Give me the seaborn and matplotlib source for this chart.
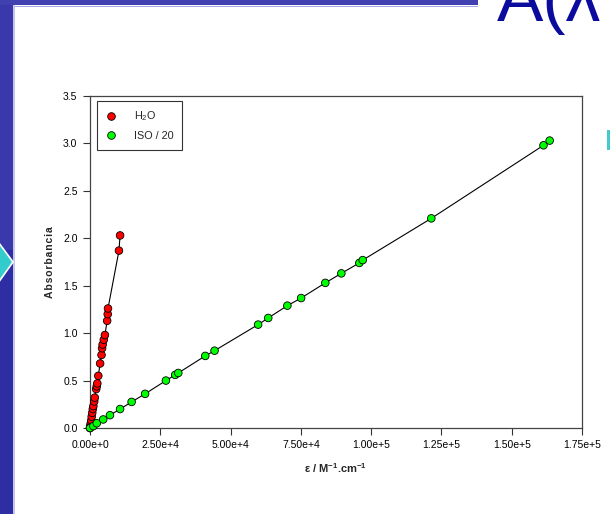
import numpy as np
import pandas as pd
import matplotlib
matplotlib.use("Agg")
import matplotlib.pyplot as plt
from matplotlib.patches import Rectangle, Polygon
from matplotlib.lines import Line2D
from matplotlib.ticker import FixedLocator, FuncFormatter
import seaborn as sns

# Absorbance vs molar absorptivity (epsilon) for two solvents
h2o_eps = [0, 150, 300, 450, 600, 800, 1000, 1200, 1500, 1700, 2200, 2400,
           2600, 2950, 3600, 4100, 4300, 4500, 4900, 5300, 6100, 6300, 6400,
           10300, 10700]
h2o_abs = [0.0, 0.03, 0.05, 0.08, 0.12, 0.16, 0.2, 0.23, 0.28, 0.32, 0.41,
           0.44, 0.47, 0.55, 0.68, 0.77, 0.84, 0.88, 0.93, 0.98, 1.13, 1.2,
           1.26, 1.87, 2.03]

iso_eps = [0, 1200, 2400, 4700, 7100, 10700, 14800, 19600, 27000, 30300,
           31400, 41000, 44300, 59800, 63400, 70200, 75100, 83700, 89400,
           95800, 97000, 121400, 161300, 163500]
iso_abs = [0.0, 0.02, 0.05, 0.09, 0.135, 0.2, 0.275, 0.36, 0.5, 0.56, 0.58,
           0.76, 0.815, 1.09, 1.16, 1.29, 1.37, 1.53, 1.63, 1.74, 1.77, 2.21,
           2.98, 3.03]

series_names = ["H$_2$O", "ISO / 20"]
series_colors = ["#FF0000", "#00FF00"]

x_ticks = [0, 25000, 50000, 75000, 100000, 125000, 150000, 175000]
x_tick_labels = ["0.00e+0", "2.50e+4", "5.00e+4", "7.50e+4", "1.00e+5",
                 "1.25e+5", "1.50e+5", "1.75e+5"]
y_ticks = [0.0, 0.5, 1.0, 1.5, 2.0, 2.5, 3.0, 3.5]

df = pd.concat([
    pd.DataFrame({"eps": h2o_eps, "abs": h2o_abs, "serie": series_names[0]}),
    pd.DataFrame({"eps": iso_eps, "abs": iso_abs, "serie": series_names[1]}),
], ignore_index=True)

sns.set_theme(style="white")
plt.rcParams["font.family"] = ["Liberation Sans", "DejaVu Sans"]
plt.rcParams["mathtext.fontset"] = "custom"
plt.rcParams["mathtext.rm"] = "Liberation Sans"
plt.rcParams["mathtext.bf"] = "Liberation Sans:bold"

W, H = 610, 514
fig = plt.figure(figsize=(W / 100, H / 100), dpi=100, facecolor="white")

# Slide frame decorations (pixel coordinates)
deco = fig.add_axes([0, 0, 1, 1], zorder=-1)
deco.set_xlim(0, W)
deco.set_ylim(H, 0)
deco.axis("off")
deco.add_patch(Rectangle((0, 0), 13, H, color="#2E2EA4", lw=0))
deco.add_patch(Rectangle((0, 0), 13, 250, color="#3939AC", lw=0))
deco.add_patch(Rectangle((0, 0), 478, 5, color="#4040B0", lw=0))
deco.add_patch(Rectangle((13, 5), 1.5, H - 5, color="#C4C4EC", lw=0))
deco.add_patch(Rectangle((15, 5.5), 463, 1.2, color="#A8A8E4", lw=0))
deco.add_patch(Polygon([(-20, 235), (-7, 235), (13, 262), (-7, 290), (-20, 290)],
                       closed=True, facecolor="#33CCCC", edgecolor="white", lw=1.2))
deco.add_patch(Rectangle((607, 130), 4, 20, color="#44CCCC", lw=0))
fig.text(497 / W, 1 - 21 / H, "A(λ", color="#0B0B9E", fontsize=50,
         family=["Liberation Sans", "DejaVu Sans"], ha="left", va="baseline")

ax = fig.add_axes([90 / W, 1 - 428 / H, (582 - 90) / W, (428 - 96) / H])
ax.set_facecolor("white")

for name, color in zip(series_names, series_colors):
    sub = df[df["serie"] == name].sort_values("eps")
    sns.lineplot(data=sub, x="eps", y="abs", ax=ax, color="black", lw=0.8,
                 sort=True, estimator=None, legend=False, zorder=2)
sns.scatterplot(data=df, x="eps", y="abs", hue="serie", palette=series_colors,
                hue_order=series_names, ax=ax, s=30, edgecolor="black",
                linewidth=0.6, legend=False, zorder=3, clip_on=False)

ax.set_xlim(0, 175000)
ax.set_ylim(0, 3.5)
ax.xaxis.set_major_locator(FixedLocator(x_ticks))
ax.xaxis.set_major_formatter(FuncFormatter(lambda v, p: x_tick_labels[p] if p < len(x_tick_labels) else ""))
ax.set_yticks(y_ticks)
ax.set_yticklabels([f"{v:.1f}" for v in y_ticks])
ax.tick_params(axis="both", which="major", direction="out", length=5, width=0.8,
               color="#333333", labelsize=7.5, labelcolor="black", pad=4,
               bottom=True, left=True, top=False, right=False)
for sp in ax.spines.values():
    sp.set_color("#444444")
    sp.set_linewidth(0.9)

ax.set_xlabel(r"ε / M$^{\mathbf{-1}}$.cm$^{\mathbf{-1}}$", fontsize=8,
              fontweight="bold", labelpad=8)
ax.set_ylabel("A b s o r b a n c i a".replace(" ", "\u200a"), fontsize=7.5,
              fontweight="bold", labelpad=6)

handles = [Line2D([], [], marker="o", ls="none", markersize=5.5,
                  markerfacecolor=c, markeredgecolor="black", markeredgewidth=0.6)
           for c in series_colors]
leg = ax.legend(handles, series_names, loc="upper left",
                bbox_to_anchor=(7 / 492, 1 - 5 / 332), fontsize=7.8,
                frameon=True, fancybox=False, borderpad=0.8, handletextpad=1.6,
                labelspacing=0.7, handlelength=1.0, borderaxespad=0)
leg.get_frame().set_edgecolor("black")
leg.get_frame().set_linewidth(0.8)

fig.savefig("out.png", dpi=100, facecolor="white")
